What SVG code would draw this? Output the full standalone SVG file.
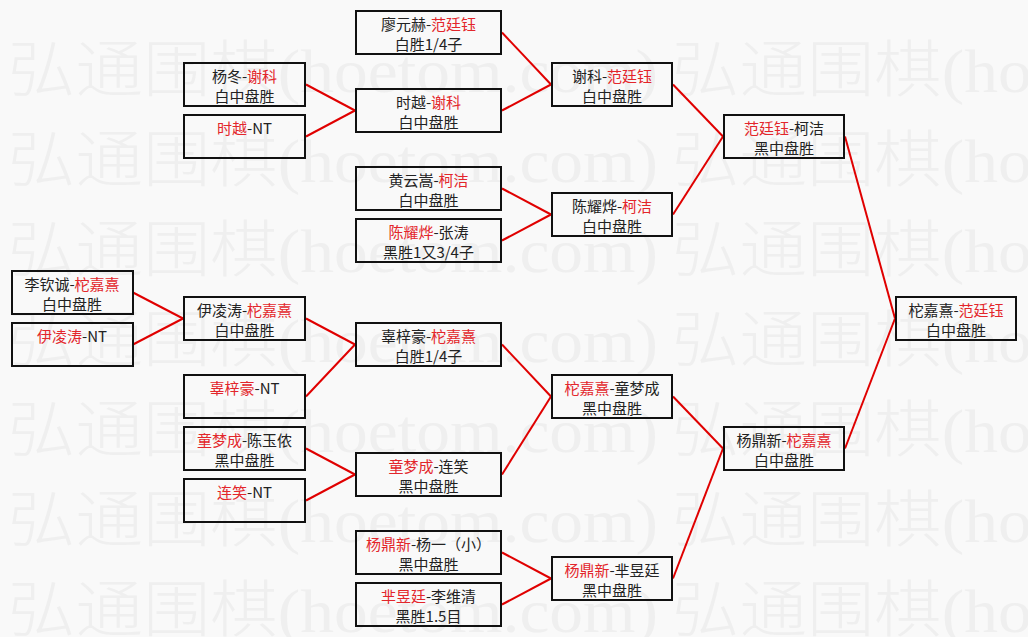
<svg xmlns="http://www.w3.org/2000/svg" width="1028" height="637" viewBox="0 0 1028 637">
<style>
.bg{fill:#f9f9f9}
.wm{font-family:"Noto Sans CJK SC","Liberation Serif",sans-serif;font-size:62px;font-weight:300;fill:#efefef}
.wm .lat{font-family:"Liberation Serif","Noto Sans CJK SC",serif;font-weight:400}
.box{fill:none;stroke:#111;stroke-width:2}
.t{font-family:"Noto Sans CJK SC","Liberation Sans",sans-serif;font-size:15px;fill:#222;text-anchor:middle}
.r{fill:#e3262b}
.links line{stroke:#e00000;stroke-width:2}
</style>
<rect class="bg" x="0" y="0" width="1028" height="637"/>
<g id="watermark" class="wm">
<text x="8" y="92" textLength="650" lengthAdjust="spacingAndGlyphs">弘通围棋<tspan class="lat">(hoetom.com)</tspan></text>
<text x="672" y="92" textLength="650" lengthAdjust="spacingAndGlyphs">弘通围棋<tspan class="lat">(hoetom.com)</tspan></text>
<text x="8" y="182" textLength="650" lengthAdjust="spacingAndGlyphs">弘通围棋<tspan class="lat">(hoetom.com)</tspan></text>
<text x="672" y="182" textLength="650" lengthAdjust="spacingAndGlyphs">弘通围棋<tspan class="lat">(hoetom.com)</tspan></text>
<text x="8" y="272" textLength="650" lengthAdjust="spacingAndGlyphs">弘通围棋<tspan class="lat">(hoetom.com)</tspan></text>
<text x="672" y="272" textLength="650" lengthAdjust="spacingAndGlyphs">弘通围棋<tspan class="lat">(hoetom.com)</tspan></text>
<text x="8" y="362" textLength="650" lengthAdjust="spacingAndGlyphs">弘通围棋<tspan class="lat">(hoetom.com)</tspan></text>
<text x="672" y="362" textLength="650" lengthAdjust="spacingAndGlyphs">弘通围棋<tspan class="lat">(hoetom.com)</tspan></text>
<text x="8" y="452" textLength="650" lengthAdjust="spacingAndGlyphs">弘通围棋<tspan class="lat">(hoetom.com)</tspan></text>
<text x="672" y="452" textLength="650" lengthAdjust="spacingAndGlyphs">弘通围棋<tspan class="lat">(hoetom.com)</tspan></text>
<text x="8" y="542" textLength="650" lengthAdjust="spacingAndGlyphs">弘通围棋<tspan class="lat">(hoetom.com)</tspan></text>
<text x="672" y="542" textLength="650" lengthAdjust="spacingAndGlyphs">弘通围棋<tspan class="lat">(hoetom.com)</tspan></text>
<text x="8" y="632" textLength="650" lengthAdjust="spacingAndGlyphs">弘通围棋<tspan class="lat">(hoetom.com)</tspan></text>
<text x="672" y="632" textLength="650" lengthAdjust="spacingAndGlyphs">弘通围棋<tspan class="lat">(hoetom.com)</tspan></text>
</g>
<g id="connectors" class="links">
<line x1="133" y1="292.5" x2="183" y2="318.5"/>
<line x1="133" y1="344.5" x2="183" y2="318.5"/>
<line x1="306" y1="84.5" x2="355" y2="110.5"/>
<line x1="306" y1="136.5" x2="355" y2="110.5"/>
<line x1="306" y1="318.5" x2="355" y2="344.5"/>
<line x1="306" y1="396.5" x2="355" y2="344.5"/>
<line x1="306" y1="448.5" x2="355" y2="474.5"/>
<line x1="306" y1="500.5" x2="355" y2="474.5"/>
<line x1="502" y1="32.5" x2="551" y2="84.5"/>
<line x1="502" y1="110.5" x2="551" y2="84.5"/>
<line x1="502" y1="188.5" x2="551" y2="214.5"/>
<line x1="502" y1="240.5" x2="551" y2="214.5"/>
<line x1="502" y1="344.5" x2="551" y2="396.5"/>
<line x1="502" y1="474.5" x2="551" y2="396.5"/>
<line x1="502" y1="552.5" x2="551" y2="578.5"/>
<line x1="502" y1="604.5" x2="551" y2="578.5"/>
<line x1="673" y1="84.5" x2="723" y2="136.5"/>
<line x1="673" y1="214.5" x2="723" y2="136.5"/>
<line x1="673" y1="396.5" x2="723" y2="448.5"/>
<line x1="673" y1="578.5" x2="723" y2="448.5"/>
<line x1="845" y1="136.5" x2="895" y2="318.5"/>
<line x1="845" y1="448.5" x2="895" y2="318.5"/>
</g>
<g id="n-li-tuo"><rect class="box" x="12" y="271" width="121" height="43"/><text class="t"><tspan x="72" y="290">李钦诚-<tspan class="r">柁嘉熹</tspan></tspan><tspan x="72" y="309.5">白中盘胜</tspan></text></g>
<g id="n-yi-nt"><rect class="box" x="12" y="323" width="121" height="43"/><text class="t"><tspan x="72" y="342"><tspan class="r">伊凌涛</tspan>-NT</tspan></text></g>
<g id="n-yang-xie"><rect class="box" x="184" y="63" width="121" height="43"/><text class="t"><tspan x="244.5" y="82">杨冬-<tspan class="r">谢科</tspan></tspan><tspan x="244.5" y="101.5">白中盘胜</tspan></text></g>
<g id="n-shi-nt"><rect class="box" x="184" y="115" width="121" height="43"/><text class="t"><tspan x="244.5" y="134"><tspan class="r">时越</tspan>-NT</tspan></text></g>
<g id="n-yi-tuo"><rect class="box" x="184" y="297" width="121" height="43"/><text class="t"><tspan x="244.5" y="316">伊凌涛-<tspan class="r">柁嘉熹</tspan></tspan><tspan x="244.5" y="335.5">白中盘胜</tspan></text></g>
<g id="n-mi-nt"><rect class="box" x="184" y="375" width="121" height="43"/><text class="t"><tspan x="244.5" y="394"><tspan class="r">辜梓豪</tspan>-NT</tspan></text></g>
<g id="n-tong-chen"><rect class="box" x="184" y="427" width="121" height="43"/><text class="t"><tspan x="244.5" y="446"><tspan class="r">童梦成</tspan>-陈玉侬</tspan><tspan x="244.5" y="465.5">黑中盘胜</tspan></text></g>
<g id="n-lian-nt"><rect class="box" x="184" y="479" width="121" height="43"/><text class="t"><tspan x="244.5" y="498"><tspan class="r">连笑</tspan>-NT</tspan></text></g>
<g id="n-liao-fan"><rect class="box" x="356" y="11" width="145" height="43"/><text class="t"><tspan x="428.5" y="30">廖元赫-<tspan class="r">范廷钰</tspan></tspan><tspan x="428.5" y="49.5">白胜1/4子</tspan></text></g>
<g id="n-shi-xie"><rect class="box" x="356" y="89" width="145" height="43"/><text class="t"><tspan x="428.5" y="108">时越-<tspan class="r">谢科</tspan></tspan><tspan x="428.5" y="127.5">白中盘胜</tspan></text></g>
<g id="n-huang-ke"><rect class="box" x="356" y="167" width="145" height="43"/><text class="t"><tspan x="428.5" y="186">黄云嵩-<tspan class="r">柯洁</tspan></tspan><tspan x="428.5" y="205.5">白中盘胜</tspan></text></g>
<g id="n-chen-zhang"><rect class="box" x="356" y="219" width="145" height="43"/><text class="t"><tspan x="428.5" y="238"><tspan class="r">陈耀烨</tspan>-张涛</tspan><tspan x="428.5" y="257.5">黑胜1又3/4子</tspan></text></g>
<g id="n-mi-tuo"><rect class="box" x="356" y="323" width="145" height="43"/><text class="t"><tspan x="428.5" y="342">辜梓豪-<tspan class="r">柁嘉熹</tspan></tspan><tspan x="428.5" y="361.5">白胜1/4子</tspan></text></g>
<g id="n-tong-lian"><rect class="box" x="356" y="453" width="145" height="43"/><text class="t"><tspan x="428.5" y="472"><tspan class="r">童梦成</tspan>-连笑</tspan><tspan x="428.5" y="491.5">黑中盘胜</tspan></text></g>
<g id="n-yangd-yangy"><rect class="box" x="356" y="531" width="145" height="43"/><text class="t"><tspan x="428.5" y="550"><tspan class="r">杨鼎新</tspan>-杨一（小）</tspan><tspan x="428.5" y="569.5">黑中盘胜</tspan></text></g>
<g id="n-mi-li"><rect class="box" x="356" y="583" width="145" height="43"/><text class="t"><tspan x="428.5" y="602"><tspan class="r">芈昱廷</tspan>-李维清</tspan><tspan x="428.5" y="621.5">黑胜1.5目</tspan></text></g>
<g id="n-xie-fan"><rect class="box" x="552" y="63" width="120" height="43"/><text class="t"><tspan x="612" y="82">谢科-<tspan class="r">范廷钰</tspan></tspan><tspan x="612" y="101.5">白中盘胜</tspan></text></g>
<g id="n-chen-ke"><rect class="box" x="552" y="193" width="120" height="43"/><text class="t"><tspan x="612" y="212">陈耀烨-<tspan class="r">柯洁</tspan></tspan><tspan x="612" y="231.5">白中盘胜</tspan></text></g>
<g id="n-tuo-tong"><rect class="box" x="552" y="375" width="120" height="43"/><text class="t"><tspan x="612" y="394"><tspan class="r">柁嘉熹</tspan>-童梦成</tspan><tspan x="612" y="413.5">黑中盘胜</tspan></text></g>
<g id="n-yangd-mi"><rect class="box" x="552" y="557" width="120" height="43"/><text class="t"><tspan x="612" y="576"><tspan class="r">杨鼎新</tspan>-芈昱廷</tspan><tspan x="612" y="595.5">黑中盘胜</tspan></text></g>
<g id="n-fan-ke"><rect class="box" x="724" y="115" width="120" height="43"/><text class="t"><tspan x="784" y="134"><tspan class="r">范廷钰</tspan>-柯洁</tspan><tspan x="784" y="153.5">黑中盘胜</tspan></text></g>
<g id="n-yangd-tuo"><rect class="box" x="724" y="427" width="120" height="43"/><text class="t"><tspan x="784" y="446">杨鼎新-<tspan class="r">柁嘉熹</tspan></tspan><tspan x="784" y="465.5">白中盘胜</tspan></text></g>
<g id="n-final"><rect class="box" x="896" y="297" width="120" height="43"/><text class="t"><tspan x="956" y="316">柁嘉熹-<tspan class="r">范廷钰</tspan></tspan><tspan x="956" y="335.5">白中盘胜</tspan></text></g>
</svg>
